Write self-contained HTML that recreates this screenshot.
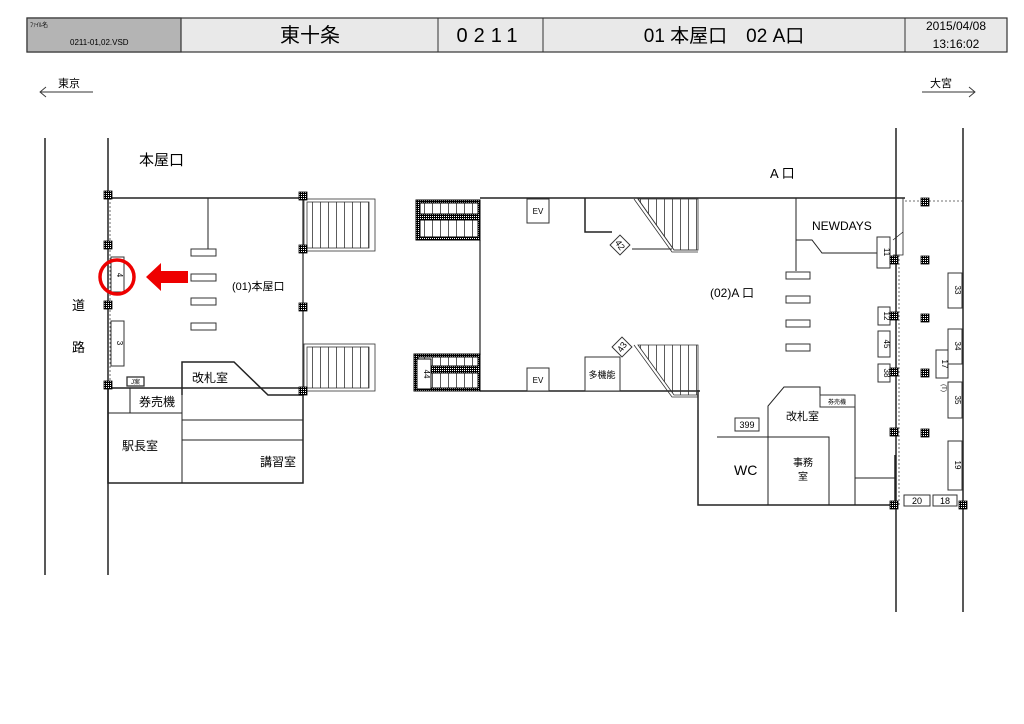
<!DOCTYPE html>
<html><head><meta charset="utf-8"><style>
html,body{margin:0;padding:0;background:#fff;}
svg{display:block;font-family:"Liberation Sans","Noto Sans CJK JP",sans-serif;}
</style></head><body>
<svg width="1024" height="724" viewBox="0 0 1024 724" xmlns="http://www.w3.org/2000/svg">
<defs>
<pattern id="ck" width="2" height="2" patternUnits="userSpaceOnUse"><rect width="2" height="2" fill="#000"/><rect width="1" height="1" fill="#fff"/></pattern>
<g id="col"><rect x="-4" y="-4" width="8" height="8" fill="url(#ck)" stroke="#000" stroke-width="0.8"/></g>
<pattern id="stp" width="8" height="10" patternUnits="userSpaceOnUse"><line x1="0.5" y1="0" x2="0.5" y2="10" stroke="#333" stroke-width="0.8"/></pattern>
</defs>
<!-- header -->
<rect x="27" y="18" width="980" height="34" fill="#e9e9e9" stroke="#333" stroke-width="1.2"/>
<rect x="27" y="18" width="154" height="34" fill="#b4b4b4" stroke="#333" stroke-width="1.2"/>
<g stroke="#333" stroke-width="1"><line x1="181" y1="18" x2="181" y2="52"/><line x1="438" y1="18" x2="438" y2="52"/><line x1="543" y1="18" x2="543" y2="52"/><line x1="905" y1="18" x2="905" y2="52"/></g>
<text x="30" y="27" font-size="6">ﾌｧｲﾙ名</text>
<text x="70" y="45" font-size="8">0211-01,02.VSD</text>
<text x="310" y="42" font-size="20" text-anchor="middle">東十条</text>
<text x="490" y="42" font-size="20" text-anchor="middle" letter-spacing="6">0211</text>
<text x="724" y="42" font-size="19" text-anchor="middle">01 本屋口　02 A口</text>
<text x="956" y="30" font-size="12" text-anchor="middle">2015/04/08</text>
<text x="956" y="48" font-size="12" text-anchor="middle">13:16:02</text>
<!-- direction -->
<text x="58" y="87" font-size="11">東京</text>
<path d="M40 92 H93 M46 87 L40 92 L46 97" fill="none" stroke="#333" stroke-width="0.9"/>
<text x="930" y="87" font-size="11">大宮</text>
<path d="M922 92 H975 M969 87 L975 92 L969 97" fill="none" stroke="#333" stroke-width="0.9"/>
<g fill="none" stroke="#222" stroke-width="1.5">
<!-- left lines -->
<line x1="45" y1="138" x2="45" y2="575"/><line x1="108" y1="138" x2="108" y2="575"/>
<line x1="108" y1="198" x2="303" y2="198"/>
<line x1="208" y1="198" x2="208" y2="253" stroke-width="1"/>
<line x1="303" y1="198" x2="303" y2="395" stroke-width="1.2"/>
<path d="M182 395 V362 H234 L268 395 H303"/>
<rect x="108" y="388" width="195" height="95"/>
<g stroke-width="1"><line x1="108" y1="413" x2="182" y2="413"/><line x1="130" y1="388" x2="130" y2="413"/><line x1="182" y1="395" x2="182" y2="483"/><line x1="182" y1="420" x2="303" y2="420"/><line x1="182" y1="440" x2="303" y2="440"/></g>
<!-- tracks -->
<line x1="896" y1="128" x2="896" y2="612"/><line x1="963" y1="128" x2="963" y2="612"/>
<!-- middle -->
<line x1="480" y1="198" x2="905" y2="198"/>
<line x1="480" y1="240" x2="480" y2="355" stroke-width="1.2"/>
<line x1="480" y1="391" x2="700" y2="391"/>
<path d="M585 198 V232 H612"/>
<line x1="632" y1="249" x2="672" y2="249" stroke-width="1"/>
<path d="M698 390 V505 H893"/>
<!-- A area -->
<line x1="796" y1="198" x2="796" y2="271" stroke-width="1"/>
<path d="M796 240 H812 L822 253 H878" stroke-width="1"/>
<path d="M893 198 H903 V255 H893 M893 240 L903 232" stroke-width="0.8"/>
<path d="M768 505 V406 L784 387 H820 V407 M855 395 V505 M855 478 H895" stroke-width="1"/>
<path d="M717 437 H829 V505" stroke-width="1"/>
<line x1="895" y1="455" x2="895" y2="505"/>
</g>
<!-- dotted -->
<g stroke="#444" stroke-width="0.8" stroke-dasharray="2,2" fill="none">
<line x1="110" y1="198" x2="110" y2="385"/>
<line x1="899" y1="255" x2="899" y2="505"/>
<line x1="905" y1="201" x2="965" y2="201"/>
</g>
<!-- left stairs -->
<g fill="none" stroke="#333" stroke-width="0.8">
<rect x="304" y="199" width="71" height="52"/><rect x="307" y="202" width="62" height="46" fill="url(#stp)"/>
<rect x="304" y="344" width="71" height="47"/><rect x="307" y="347" width="62" height="41" fill="url(#stp)"/>
</g>
<!-- gates left -->
<g fill="#fff" stroke="#333" stroke-width="1">
<rect x="191" y="249" width="25" height="7"/><rect x="191" y="274" width="25" height="7"/><rect x="191" y="298" width="25" height="7"/><rect x="191" y="323" width="25" height="7"/>
<rect x="111" y="257" width="13" height="35"/><rect x="111" y="321" width="13" height="45"/>
<rect x="127" y="377" width="17" height="9" stroke-width="1.3"/>
</g>
<text x="117" y="275" font-size="8" transform="rotate(90 117 275)" text-anchor="middle">4</text>
<text x="117" y="343" font-size="8" transform="rotate(90 117 343)" text-anchor="middle">3</text>
<text x="135.5" y="384" font-size="6" text-anchor="middle">J案</text>
<circle cx="117" cy="277" r="17" fill="none" stroke="#e00" stroke-width="3.5"/>
<polygon points="146,277 161,263 161,271 188,271 188,283 161,283 161,291" fill="#e00"/>
<g font-size="13"><text x="139" y="165" font-size="15">本屋口</text>
<text x="232" y="290" font-size="11">(01)本屋口</text>
<text x="72" y="310">道</text><text x="72" y="352">路</text>
<text x="192" y="382" font-size="12">改札室</text><text x="139" y="406" font-size="12">券売機</text>
<text x="122" y="450" font-size="12">駅長室</text><text x="260" y="466" font-size="12">講習室</text></g>
<!-- middle stairs (left, dotted black frame) -->
<g stroke="#000" stroke-width="1">
<rect x="416" y="200" width="64" height="40" fill="url(#ck)"/>
<rect x="420" y="203" width="58" height="11" fill="#fff"/><rect x="420" y="220" width="58" height="17" fill="#fff"/>
<rect x="420" y="203" width="58" height="11" fill="url(#stp)"/><rect x="420" y="220" width="58" height="17" fill="url(#stp)"/>
<rect x="414" y="354" width="66" height="37" fill="url(#ck)"/>
<rect x="418" y="357" width="60" height="9" fill="#fff"/><rect x="418" y="373" width="60" height="15" fill="#fff"/>
<rect x="418" y="357" width="60" height="9" fill="url(#stp)"/><rect x="418" y="373" width="60" height="15" fill="url(#stp)"/>
<rect x="417" y="359" width="14" height="30" fill="#fff"/>
</g>
<text x="424" y="374" font-size="8" transform="rotate(90 424 374)" text-anchor="middle">44</text>
<!-- right stairs middle -->
<g fill="none" stroke="#333" stroke-width="0.8">
<polygon points="638,199 698,199 698,250 674,250" fill="url(#stp)"/>
<path d="M638 199 L674 250 H698 M634 199 L672 252 H698"/>
<polygon points="638,345 698,345 698,395 674,395" fill="url(#stp)"/>
<path d="M634 345 L672 397 H698 V410"/>
</g>
<g fill="#fff" stroke="#333" stroke-width="1">
<rect x="527" y="199" width="22" height="24"/><rect x="527" y="368" width="22" height="23"/>
<rect x="585" y="357" width="35" height="34"/>
<rect x="613" y="238" width="14" height="14" transform="rotate(45 620 245)"/>
<rect x="615" y="340" width="14" height="14" transform="rotate(45 622 347)"/>
</g>
<text x="538" y="214" font-size="8" text-anchor="middle">EV</text><text x="538" y="383" font-size="8" text-anchor="middle">EV</text>
<text x="602" y="378" font-size="9" text-anchor="middle">多機能</text>
<text x="620" y="248" font-size="9" text-anchor="middle" transform="rotate(55 620 245)">42</text>
<text x="622" y="350" font-size="9" text-anchor="middle" transform="rotate(-55 622 347)">43</text>
<!-- A gates etc -->
<g fill="#fff" stroke="#333" stroke-width="1">
<rect x="786" y="272" width="24" height="7"/><rect x="786" y="296" width="24" height="7"/><rect x="786" y="320" width="24" height="7"/><rect x="786" y="344" width="24" height="7"/>
<rect x="877" y="237" width="13" height="31"/><rect x="878" y="307" width="12" height="18"/><rect x="878" y="331" width="12" height="26"/><rect x="878" y="364" width="12" height="18"/>
<rect x="948" y="273" width="14" height="35"/><rect x="948" y="329" width="14" height="35"/><rect x="936" y="350" width="12" height="28"/><rect x="948" y="382" width="14" height="36"/><rect x="948" y="441" width="14" height="49"/>
<rect x="904" y="495" width="26" height="11"/><rect x="933" y="495" width="24" height="11"/>
<rect x="735" y="418" width="24" height="13"/><rect x="820" y="395" width="35" height="12"/>
</g>
<g font-size="8" text-anchor="middle">
<text x="884" y="252" transform="rotate(90 884 252)">11</text>
<text x="884" y="316" transform="rotate(90 884 316)">12</text>
<text x="884" y="344" transform="rotate(90 884 344)">45</text>
<text x="884" y="373" transform="rotate(90 884 373)">38</text>
<text x="955" y="290" transform="rotate(90 955 290)">33</text>
<text x="955" y="346" transform="rotate(90 955 346)">34</text>
<text x="942" y="364" transform="rotate(90 942 364)">17</text>
<text x="955" y="400" transform="rotate(90 955 400)">35</text>
<text x="955" y="465" transform="rotate(90 955 465)">19</text>
<text x="942" y="388" font-size="6" transform="rotate(90 942 388)">(T)</text>
<text x="917" y="504" font-size="9">20</text><text x="945" y="504" font-size="9">18</text>
<text x="747" y="428" font-size="9">399</text>
<text x="837" y="404" font-size="6">券売機</text>
</g>
<text x="812" y="230" font-size="12">NEWDAYS</text>
<text x="770" y="178" font-size="13">A 口</text>
<text x="710" y="297" font-size="12">(02)A 口</text>
<text x="786" y="420" font-size="11">改札室</text>
<text x="734" y="475" font-size="14">WC</text>
<text x="803" y="466" font-size="10" text-anchor="middle">事務</text>
<text x="803" y="480" font-size="10" text-anchor="middle">室</text>
<!-- columns -->
<g>
<use href="#col" x="108" y="195"/><use href="#col" x="108" y="245"/><use href="#col" x="108" y="305"/><use href="#col" x="108" y="385"/>
<use href="#col" x="303" y="196"/><use href="#col" x="303" y="249"/><use href="#col" x="303" y="307"/><use href="#col" x="303" y="391"/>
<use href="#col" x="894" y="260"/><use href="#col" x="894" y="316"/><use href="#col" x="894" y="372"/><use href="#col" x="894" y="432"/><use href="#col" x="894" y="505"/>
<use href="#col" x="925" y="202"/><use href="#col" x="925" y="260"/><use href="#col" x="925" y="318"/><use href="#col" x="925" y="373"/><use href="#col" x="925" y="433"/>
<use href="#col" x="963" y="505"/>
</g>
</svg>
</body></html>
